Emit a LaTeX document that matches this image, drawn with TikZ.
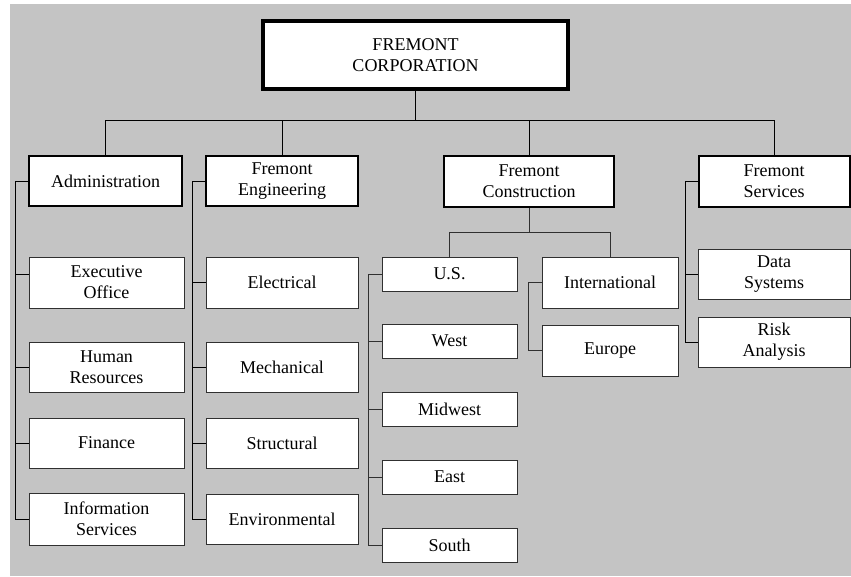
\documentclass[tikz,border=0pt]{standalone}
\usepackage{fontspec}
\setmainfont{Liberation Serif}
\definecolor{bg}{HTML}{C4C4C4}
\definecolor{edge}{HTML}{303030}
\begin{document}
\begin{tikzpicture}[x=1pt,y=-1pt,
  font=\fontsize{18}{21}\selectfont,
  box/.style={draw=edge, fill=white, line width=0.9pt, align=center, inner sep=0pt, anchor=center},
  headbox/.style={box, draw=black, line width=2pt},
  topbox/.style={box, draw=black, line width=3.2pt},
  link/.style={draw=black, line width=0.8pt},
  sublink/.style={draw=edge, line width=1pt}]
\useasboundingbox (0,0) rectangle (851,576);
\fill[white] (0,0) rectangle (851,576);
\fill[bg] (10,4) rectangle (851,576);

% top
\node[topbox, minimum width=305pt, minimum height=68pt] (top) at (415.5,55) {FREMONT\\CORPORATION};

% level 2
\node[headbox, minimum width=153pt, minimum height=50pt] (admin) at (105.5,181) {Administration};
\node[headbox, minimum width=152pt, minimum height=50pt] (eng) at (282,181) {Fremont\\Engineering};
\node[headbox, minimum width=170pt, minimum height=51pt] (constr) at (529,181.5) {Fremont\\Construction};
\node[headbox, minimum width=151pt, minimum height=51pt] (serv) at (774,181.5) {Fremont\\Services};

\coordinate (bar) at (0,120);
\draw[link] (top.south) -- (top.south |- bar);
\draw[link] (admin.north) -- (admin.north |- bar) -- (serv.north |- bar) -- (serv.north);
\draw[link] (eng.north) -- (eng.north |- bar);
\draw[link] (constr.north) -- (constr.north |- bar);

% administration children
\node[box, minimum width=155pt, minimum height=51pt] (exec) at (106.5,282.5) {Executive\\Office};
\node[box, minimum width=155pt, minimum height=50pt] (hr) at (106.5,367) {Human\\Resources};
\node[box, minimum width=155pt, minimum height=50pt] (fin) at (106.5,443) {Finance};
\node[box, minimum width=155pt, minimum height=52pt] (info) at (106.5,519) {Information\\Services};
\draw[link] (admin.west) -- ++(-13,0) |- (info.west);
\draw[link] ([yshift=8.5pt]exec.west) -- ++(-13,0);
\draw[link] (hr.west) -- ++(-13,0);
\draw[link] (fin.west) -- ++(-13,0);

% engineering children
\node[box, minimum width=152pt, minimum height=51pt] (elec) at (282,282.5) {Electrical};
\node[box, minimum width=152pt, minimum height=50pt] (mech) at (282,367) {Mechanical};
\node[box, minimum width=152pt, minimum height=50pt] (struct) at (282,443) {Structural};
\node[box, minimum width=152pt, minimum height=50pt] (env) at (282,519) {Environmental};
\draw[link] (eng.west) -- ++(-13,0) |- (env.west);
\draw[link] (elec.west) -- ++(-13,0);
\draw[link] (mech.west) -- ++(-13,0);
\draw[link] (struct.west) -- ++(-13,0);

% construction children
\node[box, minimum width=135pt, minimum height=34pt] (us) at (449.5,274) {U.S.};
\node[box, minimum width=135pt, minimum height=34pt] (west) at (449.5,341) {West};
\node[box, minimum width=135pt, minimum height=34pt] (midwest) at (449.5,409) {Midwest};
\node[box, minimum width=135pt, minimum height=34pt] (east) at (449.5,477) {East};
\node[box, minimum width=135pt, minimum height=34pt] (south) at (449.5,545) {South};
\node[box, minimum width=136pt, minimum height=51pt] (intl) at (610,282.5) {International};
\node[box, minimum width=136pt, minimum height=51pt] (europe) at (610,350.5) {Europe};
\coordinate (cbar) at (0,232);
\draw[sublink] (constr.south) -- (constr.south |- cbar);
\draw[sublink] (us.north) -- (us.north |- cbar) -- (intl.north |- cbar) -- (intl.north);
\draw[sublink] (us.west) -- ++(-13,0) |- (south.west);
\draw[sublink] (west.west) -- ++(-13,0);
\draw[sublink] (midwest.west) -- ++(-13,0);
\draw[sublink] (east.west) -- ++(-13,0);
\draw[sublink] (intl.west) -- ++(-13,0) |- (europe.west);

% services children
\node[box, minimum width=152pt, minimum height=50pt] (data) at (774,274) {Data\\Systems};
\node[box, minimum width=152pt, minimum height=50pt] (risk) at (774,342) {Risk\\Analysis};
\draw[link] (serv.west) -- ++(-12,0) |- (risk.west);
\draw[link] (data.west) -- ++(-12,0);
\end{tikzpicture}
\end{document}
